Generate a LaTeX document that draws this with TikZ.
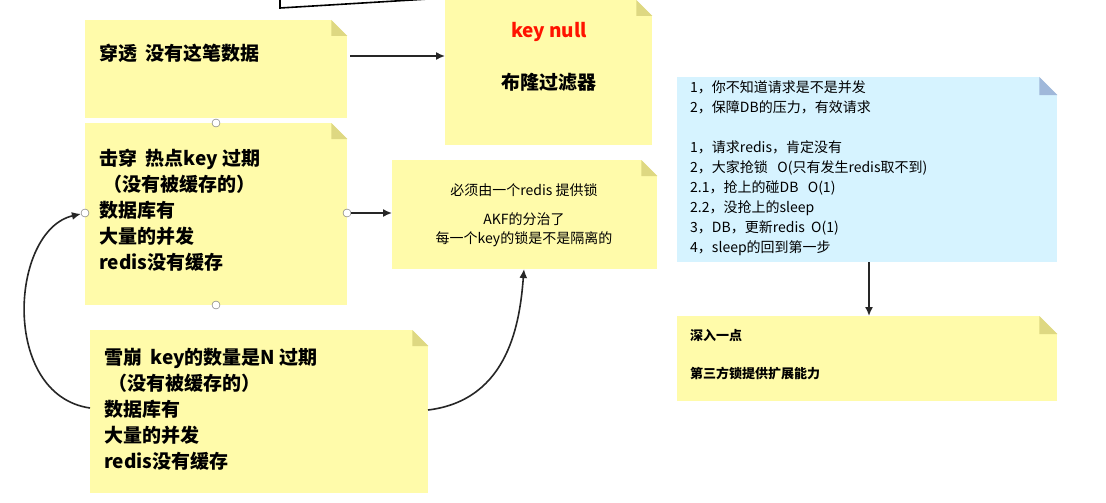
\documentclass[tikz,border=0pt]{standalone}
\usepackage{fontspec}
\setmainfont{Noto Sans CJK SC}
\usetikzlibrary{arrows.meta}
\definecolor{ny}{RGB}{255,251,170}
\definecolor{nyf}{RGB}{222,216,130}
\definecolor{nb}{RGB}{214,243,255}
\definecolor{nbf}{RGB}{160,184,218}
\tikzset{
  note/.style={draw=none,fill=ny,inner sep=0pt,anchor=north west},
  bnote/.style={note,fill=nb},
  conn/.style={draw=black!85,line width=1.6pt,-{Latex[length=9pt,width=8pt]}},
  handle/.style={circle,draw=black!60,fill=white,inner sep=0pt,minimum size=8pt},
  big/.style={font=\fontsize{19}{26}\selectfont\bfseries,align=left,anchor=north west,inner sep=0pt},
  small/.style={font=\fontsize{14}{20}\selectfont,align=left,anchor=north west,inner sep=0pt},
}
\newcommand{\fold}[3]{%
  \fill[white] ([xshift=-#2]#1.north east) -- (#1.north east) -- ([yshift=-#2]#1.north east) -- cycle;
  \fill[#3] ([xshift=-#2]#1.north east) -- ([yshift=-#2]#1.north east) -- ([xshift=-#2,yshift=-#2]#1.north east) -- cycle;}
\begin{document}
\begin{tikzpicture}[x=1pt,y=-1pt]
\useasboundingbox[fill=white] (0,0) rectangle (1106,503);
% top partial line
\coordinate (t0) at (280,-2); \coordinate (t1) at (280,8); \coordinate (t2) at (445,-2);
\draw[line width=1.6pt] (t0) -- (t1) -- (t2);
% notes
\node[note,minimum width=262pt,minimum height=98pt] (b1) at (85,20) {};
\fold{b1}{16pt}{nyf}
\node[big] at (99,44) {穿透\ \ 没有这笔数据};
\node[note,minimum width=207pt,minimum height=145pt] (b2) at (445,0) {};
\fold{b2}{16pt}{nyf}
\node[font=\fontsize{19}{24}\selectfont\bfseries,text=red!85!orange] at (549,32) {key null};
\node[font=\fontsize{19}{24}\selectfont\bfseries] at (549,82) {布隆过滤器};
\node[note,minimum width=262pt,minimum height=182pt] (b3) at (85,123) {};
\fold{b3}{16pt}{nyf}
\node[big] at (99,149) {击穿\ \ 热点key 过期\\\ （没有被缓存的）\\数据库有\\大量的并发\\redis没有缓存};
\node[note,minimum width=265pt,minimum height=109pt] (b4) at (392,160) {};
\fold{b4}{16pt}{nyf}
\node[font=\fontsize{14}{19}\selectfont,align=center] (t4) at (524,215) {必须由一个redis 提供锁\\[10pt]AKF的分治了\\每一个key的锁是不是隔离的};
\node[note,minimum width=338pt,minimum height=163pt] (b5) at (90,330) {};
\fold{b5}{16pt}{nyf}
\node[big] at (104,348) {雪崩\ \ key的数量是N 过期\\\ （没有被缓存的）\\数据库有\\大量的并发\\redis没有缓存};
\node[bnote,minimum width=380pt,minimum height=185pt] (b6) at (677,77) {};
\fold{b6}{18pt}{nbf}
\node[small] at (690,80) {1，你不知道请求是不是并发\\2，保障DB的压力，有效请求\\[20pt]1，请求redis，肯定没有\\2，大家抢锁\ \ \ O(只有发生redis取不到)\\2.1，抢上的碰DB\ \ \ O(1)\\2.2，没抢上的sleep\\3，DB，更新redis\ \ O(1)\\4，sleep的回到第一步};
\node[note,minimum width=380pt,minimum height=85pt] (b7) at (677,316) {};
\fold{b7}{18pt}{nyf}
\node[font=\fontsize{13}{18}\selectfont\bfseries,align=left,anchor=north west,inner sep=0pt] at (690,329) {深入一点\\[20pt]第三方锁提供扩展能力};
% handles
\node[handle] (hT) at (216,123) {};
\node[handle] (hB) at (216,305) {};
\node[handle] (hL) at (85,213) {};
\node[handle] (hR) at (347,213) {};
% connectors
\coordinate (a1) at (350,56);
\draw[conn] (a1) -- (b2.west |- a1);
\draw[conn] (hR) -- (b4.west |- hR);
\draw[conn] (b6.south -| 869,0) -- (b7.north -| 869,0);
\coordinate (c1) at (90,408);
\draw[conn] (c1) .. controls (0,395) and (10,230) .. (hL);
\coordinate (c2) at (428,410);
\draw[conn] (c2) .. controls (510,400) and (520,320) .. (524,269);
\end{tikzpicture}
\end{document}
